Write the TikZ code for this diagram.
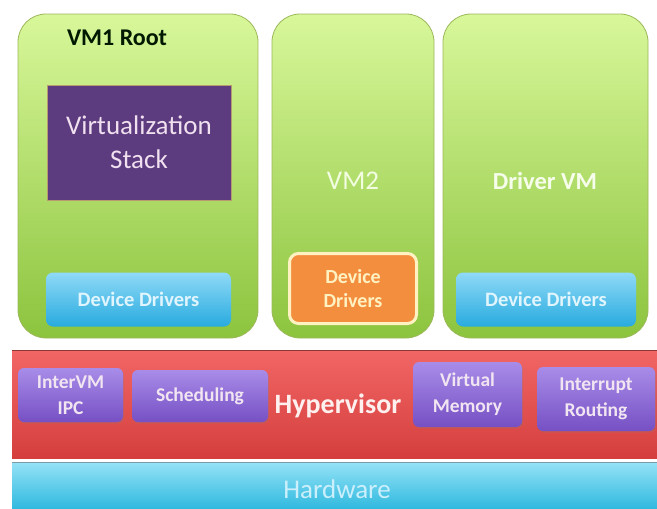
\documentclass[tikz,border=0pt]{standalone}
\usepackage{fontspec}
\setmainfont{Carlito}
\usetikzlibrary{shadows}

% palette
\definecolor{vmtop}{HTML}{D8F79A}
\definecolor{vmbot}{HTML}{8CC43E}
\definecolor{vmedge}{HTML}{9CB85A}
\definecolor{stackfill}{HTML}{5C3B7E}
\definecolor{stackedge}{HTML}{B89A70}
\definecolor{ddtop}{HTML}{8FD9F7}
\definecolor{ddbot}{HTML}{28ABDF}
\definecolor{orangefill}{HTML}{F48E3F}
\definecolor{orangeedge}{HTML}{FFF2C2}
\definecolor{hyptop}{HTML}{F26666}
\definecolor{hypbot}{HTML}{D43F3D}
\definecolor{hypedge}{HTML}{8C3A36}
\definecolor{pbtop}{HTML}{A88CE8}
\definecolor{pbbot}{HTML}{7650C4}
\definecolor{hwtop}{HTML}{95E2F6}
\definecolor{hwbot}{HTML}{2FB9DF}
\definecolor{hwedge}{HTML}{7A9AA8}

\begin{document}
\begin{tikzpicture}[x=1pt,y=-1pt,
  vmbox/.style={draw=vmedge, line width=0.8pt, rounded corners=28pt,
    top color=vmtop, bottom color=vmbot, minimum height=324pt,
    minimum width=#1, inner sep=0pt, outer sep=0pt},
  bluebox/.style={rounded corners=7pt, top color=ddtop, bottom color=ddbot,
    minimum height=54pt, minimum width=#1, inner sep=0pt,
    text=white!88!cyan, font=\bfseries\fontsize{20.5}{24}\selectfont},
  purplebtn/.style={rounded corners=6pt, top color=pbtop, bottom color=pbbot,
    drop shadow={opacity=0.25, shadow xshift=1pt, shadow yshift=-1.5pt},
    inner sep=0pt, align=center, text=white!90!violet,
    font=\bfseries\fontsize{19.5}{26}\selectfont},
  band/.style={inner sep=0pt, outer sep=0pt, minimum width=645pt}
]
\useasboundingbox (0,0) rectangle (657,509);
\fill[white] (0,0) rectangle (657,509);

% virtual machine compartments
\node[vmbox=240pt] (vm1) at (138,176) {};
\node[vmbox=162pt] (vm2) at (353,176) {};
\node[vmbox=205pt] (drv) at (545.5,176) {};

% VM1 contents
\node[font=\bfseries\fontsize{24}{26}\selectfont, text=black!90!green]
  (vm1lbl) at (117,38) {VM1 Root};
\node[fill=stackfill, draw=stackedge, line width=0.6pt, minimum width=184pt,
  minimum height=115pt, inner sep=0pt, align=center,
  text=white!88!violet, font=\fontsize{27}{34}\selectfont]
  (vstack) at (139,142.5) {Virtualization\\Stack};
\node[bluebox=185pt] (dd1) at (138.5,299.5) {Device Drivers};

% VM2 contents
\node[text=white!70!vmtop, font=\fontsize{27}{30}\selectfont]
  (vm2lbl) at (353,181) {VM2};
\node[fill=orangefill, draw=orangeedge, line width=3pt, rounded corners=9pt,
  minimum width=127pt, minimum height=70pt, inner sep=0pt, align=center,
  text=orangeedge, font=\bfseries\fontsize{20}{24.5}\selectfont]
  (dd2) at (353,288.5) {Device\\Drivers};

% Driver VM contents
\node[text=white!80!vmtop, font=\bfseries\fontsize{24.5}{28}\selectfont]
  (drvlbl) at (545,181) {Driver VM};
\node[bluebox=180pt] (dd3) at (546,299.5) {Device Drivers};

% hypervisor layer
\node[band, minimum height=108pt, top color=hyptop, bottom color=hypbot]
  (hyp) at (334.5,404) {};
\draw[hypedge, line width=1pt] (hyp.north west) -- (hyp.north east);
\node[text=white!94!red, font=\bfseries\fontsize{28}{30}\selectfont]
  (hyplbl) at (338,406) {Hypervisor};

\node[purplebtn, minimum width=105pt, minimum height=54pt]
  (ipc) at (70.5,395) {InterVM\\IPC};
\node[purplebtn, minimum width=136pt, minimum height=52pt]
  (sched) at (200,396) {Scheduling};
\node[purplebtn, minimum width=109pt, minimum height=65pt]
  (vmem) at (467.5,394.5) {Virtual\\Memory};
\node[purplebtn, minimum width=118pt, minimum height=64pt]
  (irq) at (596,399) {Interrupt\\Routing};

% hardware layer
\node[band, minimum height=47pt, top color=hwtop, bottom color=hwbot]
  (hw) at (334.5,485.5) {};
\draw[hwedge, line width=1pt] (hw.north west) -- (hw.north east);
\node[text=white!80!cyan, font=\fontsize{27}{30}\selectfont]
  (hwlbl) at (337,489) {Hardware};
\end{tikzpicture}
\end{document}
